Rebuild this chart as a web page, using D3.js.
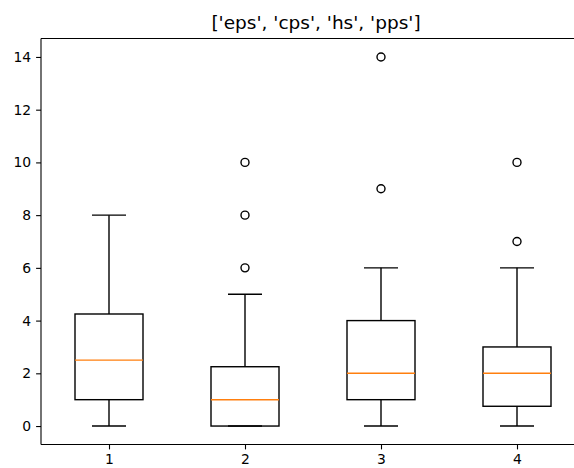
<!DOCTYPE html>
<html>
<head>
<meta charset="utf-8">
<script src="https://cdn.jsdelivr.net/npm/d3@7"></script>
<style>
  body { margin: 0; background: #fff; overflow: hidden; }
  svg { display: block; font-family: "DejaVu Sans", sans-serif; }
</style>
</head>
<body>
<div id="chart"></div>
<script>
const title = "['eps', 'cps', 'hs', 'pps']";
const positions = [1, 2, 3, 4];
const whiskerLow = [0, 0, 0, 0];
const q1 = [1, 0, 1, 0.75];
const medians = [2.5, 1, 2, 2];
const q3 = [4.25, 2.25, 4, 3];
const whiskerHigh = [8, 5, 6, 6];
const fliers = [[], [6, 8, 10], [9, 14], [7, 10]];
const yTicks = [0, 2, 4, 6, 8, 10, 12, 14];

const width = 574, height = 468;
const margin = {top: 38.5, left: 41, bottom: 444.5, right: 585};

const x = d3.scaleLinear().domain([0.5, 4.5]).range([margin.left, margin.right]);
const y = d3.scaleLinear().domain([-0.7, 14.7]).range([margin.bottom, margin.top]);

const svg = d3.select('#chart').append('svg')
  .attr('width', width)
  .attr('height', height);

const boxW = x(1.5) - x(1);   // widths = 0.5
const capW = boxW / 2;

const boxes = svg.append('g').selectAll('g')
  .data(positions.map((p, i) => ({p, i})))
  .join('g');

// whiskers
boxes.append('line')
  .attr('x1', d => x(d.p)).attr('x2', d => x(d.p))
  .attr('y1', d => y(whiskerLow[d.i])).attr('y2', d => y(q1[d.i]))
  .attr('stroke', '#000').attr('stroke-width', 1.4);
boxes.append('line')
  .attr('x1', d => x(d.p)).attr('x2', d => x(d.p))
  .attr('y1', d => y(q3[d.i])).attr('y2', d => y(whiskerHigh[d.i]))
  .attr('stroke', '#000').attr('stroke-width', 1.4);
// caps
[whiskerLow, whiskerHigh].forEach(arr => {
  boxes.append('line')
    .attr('x1', d => x(d.p) - capW / 2).attr('x2', d => x(d.p) + capW / 2)
    .attr('y1', d => y(arr[d.i])).attr('y2', d => y(arr[d.i]))
    .attr('stroke', '#000').attr('stroke-width', 1.4);
});
// box
boxes.append('rect')
  .attr('x', d => x(d.p) - boxW / 2)
  .attr('width', boxW)
  .attr('y', d => y(q3[d.i]))
  .attr('height', d => y(q1[d.i]) - y(q3[d.i]))
  .attr('fill', 'none').attr('stroke', '#000').attr('stroke-width', 1.4);
// median
boxes.append('line')
  .attr('x1', d => x(d.p) - boxW / 2).attr('x2', d => x(d.p) + boxW / 2)
  .attr('y1', d => y(medians[d.i])).attr('y2', d => y(medians[d.i]))
  .attr('stroke', '#ff7f0e').attr('stroke-width', 1.4);
// fliers
boxes.selectAll('circle')
  .data(d => fliers[d.i].map(v => ({p: d.p, v})))
  .join('circle')
  .attr('cx', d => x(d.p)).attr('cy', d => y(d.v))
  .attr('r', 4)
  .attr('fill', 'none').attr('stroke', '#000').attr('stroke-width', 1.4);

// axes
const xAxis = d3.axisBottom(x).tickValues(positions).tickFormat(d3.format('d'))
  .tickSizeOuter(0).tickSize(4.9).tickPadding(4.9);
const yAxis = d3.axisLeft(y).tickValues(yTicks).tickFormat(d3.format('d'))
  .tickSizeOuter(0).tickSize(4.9).tickPadding(4.9);

const gx = svg.append('g')
  .attr('transform', `translate(0,${margin.bottom})`)
  .call(xAxis);
const gy = svg.append('g')
  .attr('transform', `translate(${margin.left},0)`)
  .call(yAxis);
[gx, gy].forEach(g => {
  g.select('.domain').remove();
  g.selectAll('.tick line').attr('stroke', '#000').attr('stroke-width', 1.1);
  g.selectAll('.tick text').attr('fill', '#000').style('font-size', '13.9px')
    .style('font-family', '"DejaVu Sans", sans-serif');
});

// spines (right one falls outside the window)
const spines = svg.append('g').attr('stroke', '#000').attr('stroke-width', 1.1);
spines.append('line').attr('x1', margin.left).attr('x2', margin.right)
  .attr('y1', margin.top).attr('y2', margin.top);
spines.append('line').attr('x1', margin.left).attr('x2', margin.right)
  .attr('y1', margin.bottom).attr('y2', margin.bottom);
spines.append('line').attr('x1', margin.left).attr('x2', margin.left)
  .attr('y1', margin.top).attr('y2', margin.bottom);

svg.append('text')
  .attr('x', (margin.left + margin.right) / 2 + 3)
  .attr('y', margin.top - 10)
  .attr('text-anchor', 'middle')
  .style('font-size', '18.5px')
  .text(title);
</script>
</body>
</html>
